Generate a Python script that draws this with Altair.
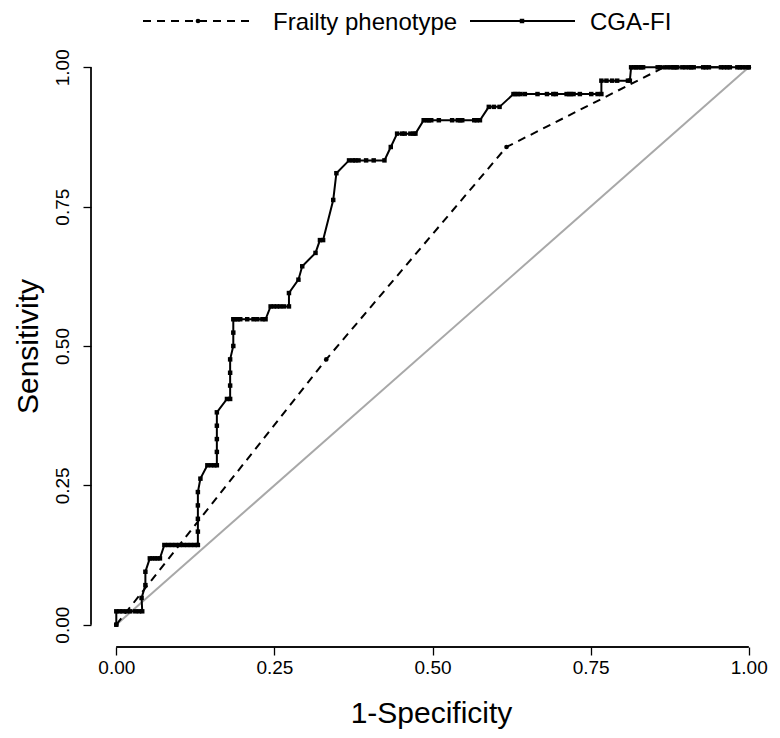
import altair as alt
import pandas as pd

# ---- data ----
cga_x = [0.000, 0.000, 0.005, 0.010, 0.016, 0.022, 0.030, 0.036, 0.041,
         0.040, 0.046, 0.046, 0.053, 0.057, 0.061, 0.065, 0.069,
         0.076, 0.082, 0.088, 0.094, 0.100, 0.106, 0.112, 0.118, 0.124, 0.129,
         0.129, 0.129, 0.129, 0.129, 0.133,
         0.144, 0.150, 0.155, 0.159, 0.159, 0.159, 0.159, 0.159,
         0.175, 0.180, 0.180, 0.180, 0.180, 0.185, 0.185, 0.185,
         0.188, 0.192, 0.196, 0.207, 0.217, 0.223, 0.231, 0.236,
         0.244, 0.249, 0.254, 0.259, 0.265, 0.273,
         0.273, 0.288, 0.294, 0.315, 0.322, 0.327, 0.343, 0.348,
         0.368, 0.374, 0.378, 0.383, 0.395, 0.407, 0.424,
         0.434, 0.444, 0.452, 0.456, 0.465, 0.470, 0.473,
         0.486, 0.491, 0.494, 0.498, 0.510, 0.531, 0.540, 0.544, 0.547, 0.566, 0.570, 0.575,
         0.589, 0.597, 0.606,
         0.628, 0.631, 0.635, 0.639, 0.646, 0.666, 0.681, 0.691, 0.695, 0.712, 0.716,
         0.719, 0.723, 0.733, 0.751, 0.761, 0.767,
         0.767, 0.775, 0.784, 0.792, 0.809, 0.812,
         0.814, 0.819, 0.822, 0.826, 0.830, 0.833, 0.856, 0.860, 0.871, 0.877, 0.881,
         0.884, 0.887, 0.895, 0.900, 0.906, 0.909, 0.913, 0.928, 0.932, 0.937, 0.956,
         0.961, 0.966, 0.970, 0.982, 0.986, 0.990, 0.995, 1.000]
cga_y = [0.000, 0.024, 0.024, 0.024, 0.024, 0.024, 0.024, 0.024, 0.024,
         0.048, 0.071, 0.095, 0.119, 0.119, 0.119, 0.119, 0.119,
         0.143, 0.143, 0.143, 0.143, 0.143, 0.143, 0.143, 0.143, 0.143, 0.143,
         0.167, 0.190, 0.214, 0.238, 0.262,
         0.286, 0.286, 0.286, 0.286, 0.310, 0.333, 0.357, 0.381,
         0.405, 0.405, 0.429, 0.452, 0.476, 0.500, 0.524, 0.548,
         0.548, 0.548, 0.548, 0.548, 0.548, 0.548, 0.548, 0.548,
         0.571, 0.571, 0.571, 0.571, 0.571, 0.571,
         0.595, 0.619, 0.643, 0.667, 0.690, 0.690, 0.762, 0.810,
         0.833, 0.833, 0.833, 0.833, 0.833, 0.833, 0.833,
         0.857, 0.881, 0.881, 0.881, 0.881, 0.881, 0.881,
         0.905, 0.905, 0.905, 0.905, 0.905, 0.905, 0.905, 0.905, 0.905, 0.905, 0.905, 0.905,
         0.929, 0.929, 0.929,
         0.952, 0.952, 0.952, 0.952, 0.952, 0.952, 0.952, 0.952, 0.952, 0.952, 0.952,
         0.952, 0.952, 0.952, 0.952, 0.952, 0.952,
         0.976, 0.976, 0.976, 0.976, 0.976, 0.976,
         1.0, 1.0, 1.0, 1.0, 1.0, 1.0, 1.0, 1.0, 1.0, 1.0, 1.0,
         1.0, 1.0, 1.0, 1.0, 1.0, 1.0, 1.0, 1.0, 1.0, 1.0, 1.0,
         1.0, 1.0, 1.0, 1.0, 1.0, 1.0, 1.0, 1.0]

fp_x = [0.000, 0.332, 0.617, 0.866, 1.000]
fp_y = [0.000, 0.476, 0.857, 1.000, 1.000]

diag = [0.0, 1.0]
tick_values = [0.0, 0.25, 0.5, 0.75, 1.0]
legend_labels = ["Frailty phenotype", "CGA-FI"]
x_title = "1-Specificity"
y_title = "Sensitivity"

FONT = "Liberation Sans"
W, H = 680, 602

cga = pd.DataFrame({"x": cga_x, "y": cga_y, "i": range(len(cga_x))})
fp = pd.DataFrame({"x": fp_x, "y": fp_y, "i": range(len(fp_x))})
dg = pd.DataFrame({"x": diag, "y": diag})

xs = alt.Scale(domain=[-0.04, 1.0352], nice=False, zero=False)
ys = alt.Scale(domain=[-0.04, 1.04], nice=False, zero=False)

xaxis = alt.Axis(values=tick_values, format=".2f", grid=False, domain=False,
                 tickSize=8, tickWidth=1.3, tickColor="black",
                 labelFontSize=19, labelFont=FONT, labelColor="black", labelPadding=3,
                 title=x_title, titleFontSize=30, titleFont=FONT, titleFontWeight="normal",
                 titleColor="black", titleY=66, titleBaseline="middle")
yaxis = alt.Axis(values=tick_values, format=".2f", grid=False, domain=False,
                 tickSize=8, tickWidth=1.3, tickColor="black",
                 labelFontSize=19, labelFont=FONT, labelColor="black", labelPadding=11,
                 labelAngle=270, labelAlign="center", labelBaseline="bottom",
                 title=y_title, titleFontSize=30, titleFont=FONT, titleFontWeight="normal",
                 titleColor="black", titleX=-63, titleBaseline="middle")

diag_line = alt.Chart(dg).mark_line(color="#A8A8A8", strokeWidth=2).encode(
    x=alt.X("x:Q", scale=xs, axis=xaxis),
    y=alt.Y("y:Q", scale=ys, axis=yaxis),
)

fp_line = alt.Chart(fp).mark_line(color="black", strokeWidth=2, strokeDash=[8, 6]).encode(
    x=alt.X("x:Q", scale=xs), y=alt.Y("y:Q", scale=ys), order="i:Q")
fp_pts = alt.Chart(fp).mark_point(filled=True, color="black", size=22, opacity=1).encode(
    x=alt.X("x:Q", scale=xs), y=alt.Y("y:Q", scale=ys))

cga_line = alt.Chart(cga).mark_line(color="black", strokeWidth=2).encode(
    x=alt.X("x:Q", scale=xs), y=alt.Y("y:Q", scale=ys), order="i:Q")
cga_pts = alt.Chart(cga).mark_square(filled=True, color="black", size=20, opacity=1).encode(
    x=alt.X("x:Q", scale=xs), y=alt.Y("y:Q", scale=ys))

# axis lines spanning only the tick range (R style)
xline = alt.Chart(dg).mark_rule(color="black", strokeWidth=1.3).encode(
    x=alt.datum(0.0), x2=alt.datum(1.0), y=alt.value(H))
yline = alt.Chart(dg).mark_rule(color="black", strokeWidth=1.3).encode(
    y=alt.datum(0.0), y2=alt.datum(1.0), x=alt.value(0))

# legend (drawn by hand at the top, like the reference)
LY = -24
lg1 = pd.DataFrame({"label": [legend_labels[0]]})
lg2 = pd.DataFrame({"label": [legend_labels[1]]})
leg_fp_line = alt.Chart(lg1).mark_rule(color="black", strokeWidth=2, strokeDash=[8, 6]).encode(
    x=alt.value(52), x2=alt.value(163), y=alt.value(LY))
leg_fp_pt = alt.Chart(lg1).mark_point(filled=True, color="black", size=22, opacity=1).encode(
    x=alt.value(107), y=alt.value(LY))
leg_fp_txt = alt.Chart(lg1).mark_text(align="left", baseline="middle", fontSize=24,
                                      font=FONT, color="black").encode(
    x=alt.value(182), y=alt.value(LY + 2), text="label:N")
leg_cga_line = alt.Chart(lg2).mark_rule(color="black", strokeWidth=2).encode(
    x=alt.value(379), x2=alt.value(484), y=alt.value(LY))
leg_cga_pt = alt.Chart(lg2).mark_square(filled=True, color="black", size=20, opacity=1).encode(
    x=alt.value(431), y=alt.value(LY))
leg_cga_txt = alt.Chart(lg2).mark_text(align="left", baseline="middle", fontSize=24,
                                       font=FONT, color="black").encode(
    x=alt.value(499), y=alt.value(LY + 2), text="label:N")

chart = alt.layer(
    diag_line, fp_line, fp_pts, cga_line, cga_pts, xline, yline,
    leg_fp_line, leg_fp_pt, leg_fp_txt, leg_cga_line, leg_cga_pt, leg_cga_txt,
).properties(
    width=W, height=H,
    autosize=alt.AutoSizeParams(type="none"),
    padding={"left": 83, "top": 37, "right": 1, "bottom": 82},
    background="white",
).configure_view(stroke="transparent")

chart.save("out.html", embed_options={"renderer": "svg", "actions": False})
